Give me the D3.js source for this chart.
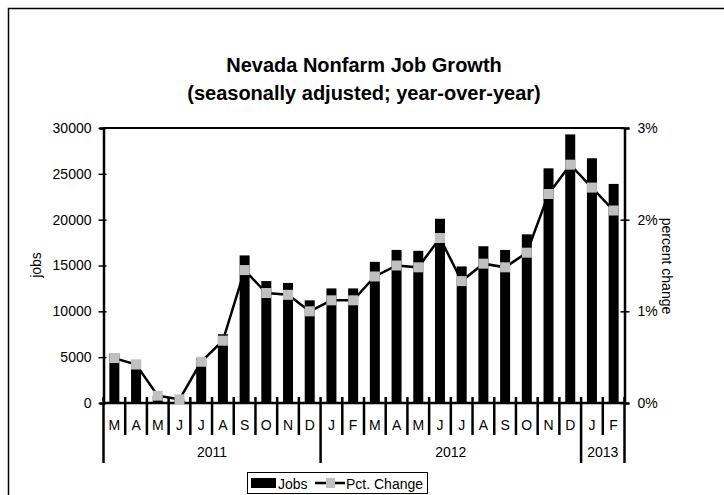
<!DOCTYPE html>
<html>
<head>
<meta charset="utf-8">
<script src="https://cdn.jsdelivr.net/npm/d3@7"></script>
<style>
  body { margin: 0; background: #fff; }
  svg text { font-family: Arial, "Liberation Sans", sans-serif; fill: #000; }
</style>
</head>
<body>
<div id="chart"></div>
<script>
// months from Mar 2011 to Feb 2013
const months = ["M", "A", "M", "J", "J", "A", "S", "O", "N", "D",
  "J", "F", "M", "A", "M", "J", "J", "A", "S", "O", "N", "D",
  "J", "F"];
const years = [
  { label: "2011", start: 0, end: 10 },
  { label: "2012", start: 10, end: 22 },
  { label: "2013", start: 22, end: 24 }
];
const jobs = [5400, 4700, 800, 400, 4900, 7500, 16100, 13300, 13100, 11200,
  12500, 12500, 15400, 16700, 16600, 20100, 14900, 17100, 16700, 18400,
  25600, 29300, 26700, 23900];
const pctChange = [0.49, 0.42, 0.08, 0.04, 0.45, 0.68, 1.45, 1.2, 1.18, 1.0,
  1.12, 1.12, 1.38, 1.5, 1.48, 1.8, 1.33, 1.52, 1.48, 1.64,
  2.28, 2.6, 2.35, 2.1];
const jobTicks = [0, 5000, 10000, 15000, 20000, 25000, 30000];
const pctTicks = [0, 1, 2, 3];

const width = 724, height = 495;
const plotLeft = 103.5, plotRight = 624.5, plotTop = 128, plotBottom = 403;

const svg = d3.select("#chart").append("svg")
  .attr("width", width)
  .attr("height", height);

// outer frame (runs off the right and bottom edges)
svg.append("rect")
  .attr("x", 8.5).attr("y", 8.5)
  .attr("width", 740).attr("height", 520)
  .attr("fill", "none")
  .attr("stroke", "#000")
  .attr("stroke-width", 1.5);

// title
svg.append("text")
  .attr("x", 364).attr("y", 72)
  .attr("text-anchor", "middle")
  .style("font-size", "20px").style("font-weight", "bold")
  .text("Nevada Nonfarm Job Growth");
svg.append("text")
  .attr("x", 364).attr("y", 100)
  .attr("text-anchor", "middle")
  .style("font-size", "20px").style("font-weight", "bold")
  .text("(seasonally adjusted; year-over-year)");

const x = d3.scaleBand()
  .domain(d3.range(months.length))
  .range([plotLeft, plotRight])
  .padding(0);

const y = d3.scaleLinear().domain([0, 30000]).range([plotBottom, plotTop]);
const y2 = d3.scaleLinear().domain([0, 3]).range([plotBottom, plotTop]);

// bars
svg.selectAll(".bar")
  .data(jobs)
  .enter()
  .append("rect")
  .attr("class", "bar")
  .attr("x", (d, i) => x(i) + x.bandwidth() / 2 - 5)
  .attr("y", (d) => y(d))
  .attr("width", 10)
  .attr("height", (d) => plotBottom - y(d))
  .attr("fill", "#000");

// top border of plot
svg.append("line")
  .attr("x1", plotLeft).attr("x2", plotRight)
  .attr("y1", plotTop).attr("y2", plotTop)
  .attr("stroke", "#000").attr("stroke-width", 2);

// left axis
const yAxis = svg.append("g")
  .attr("transform", `translate(${plotLeft},0)`)
  .call(d3.axisLeft(y).tickValues(jobTicks).tickFormat(d3.format("d")).tickSize(4).tickPadding(8));
yAxis.select(".domain").attr("stroke-width", 2.5);
yAxis.selectAll(".tick line").attr("x2", -5).attr("x1", 3).attr("stroke-width", 1.5);
yAxis.selectAll(".tick text")
  .style("font-size", "14px")
  .style("font-family", "Arial, 'Liberation Sans', sans-serif");

// right axis
const y2Axis = svg.append("g")
  .attr("transform", `translate(${plotRight},0)`)
  .call(d3.axisRight(y2).tickValues(pctTicks).tickFormat((d) => d + "%").tickSize(5).tickPadding(8));
y2Axis.select(".domain").attr("stroke-width", 2.5);
y2Axis.selectAll(".tick line").attr("x1", -4).attr("stroke-width", 1.5);
y2Axis.selectAll(".tick text")
  .style("font-size", "14px")
  .style("font-family", "Arial, 'Liberation Sans', sans-serif");

// axis titles
svg.append("text")
  .attr("transform", "translate(36,265) rotate(-90)")
  .attr("text-anchor", "middle")
  .attr("dominant-baseline", "central")
  .style("font-size", "14px")
  .text("jobs");
svg.append("text")
  .attr("transform", "translate(667,266) rotate(90)")
  .attr("text-anchor", "middle")
  .attr("dominant-baseline", "central")
  .style("font-size", "14px")
  .text("percent change");

// bottom baseline
svg.append("line")
  .attr("x1", plotLeft).attr("x2", plotRight)
  .attr("y1", plotBottom).attr("y2", plotBottom)
  .attr("stroke", "#000").attr("stroke-width", 2.5);

// month dividers
const bounds = d3.range(months.length + 1);
const yearBounds = new Set(years.map((d) => d.start).concat([months.length]));
svg.selectAll(".divider")
  .data(bounds)
  .enter()
  .append("line")
  .attr("class", "divider")
  .attr("x1", (d) => plotLeft + d * x.bandwidth())
  .attr("x2", (d) => plotLeft + d * x.bandwidth())
  .attr("y1", 397)
  .attr("y2", (d) => (yearBounds.has(d) ? 463 : 435))
  .attr("stroke", "#000")
  .attr("stroke-width", 2.5);

// month labels
svg.selectAll(".month")
  .data(months)
  .enter()
  .append("text")
  .attr("class", "month")
  .attr("x", (d, i) => x(i) + x.bandwidth() / 2)
  .attr("y", 425)
  .attr("text-anchor", "middle")
  .attr("dominant-baseline", "central")
  .style("font-size", "14px")
  .text((d) => d);

// year labels
svg.selectAll(".year")
  .data(years)
  .enter()
  .append("text")
  .attr("class", "year")
  .attr("x", (d) => plotLeft + ((d.start + d.end) / 2) * x.bandwidth())
  .attr("y", 452)
  .attr("text-anchor", "middle")
  .attr("dominant-baseline", "central")
  .style("font-size", "14px")
  .text((d) => d.label);

// pct change line and markers
const line = d3.line()
  .x((d, i) => x(i) + x.bandwidth() / 2)
  .y((d) => y2(d));
svg.append("path")
  .datum(pctChange)
  .attr("d", line)
  .attr("fill", "none")
  .attr("stroke", "#000")
  .attr("stroke-width", 2.5);
svg.selectAll(".marker")
  .data(pctChange)
  .enter()
  .append("rect")
  .attr("class", "marker")
  .attr("x", (d, i) => x(i) + x.bandwidth() / 2 - 5)
  .attr("y", (d) => y2(d) - 5)
  .attr("width", 10)
  .attr("height", 10)
  .attr("fill", "#c0c0c0");

// legend
const legend = svg.append("g").attr("transform", "translate(247,472)");
legend.append("rect")
  .attr("x", 0.5).attr("y", 0.5)
  .attr("width", 180).attr("height", 21)
  .attr("fill", "#fff")
  .attr("stroke", "#000");
legend.append("rect")
  .attr("x", 4).attr("y", 6)
  .attr("width", 25).attr("height", 10)
  .attr("fill", "#000");
legend.append("text")
  .attr("x", 31).attr("y", 11.5)
  .attr("dominant-baseline", "central")
  .style("font-size", "14px")
  .text("Jobs");
legend.append("line")
  .attr("x1", 68).attr("x2", 98)
  .attr("y1", 11).attr("y2", 11)
  .attr("stroke", "#000").attr("stroke-width", 2.5);
legend.append("rect")
  .attr("x", 79).attr("y", 6)
  .attr("width", 9).attr("height", 10)
  .attr("fill", "#c0c0c0");
legend.append("text")
  .attr("x", 99).attr("y", 11.5)
  .attr("dominant-baseline", "central")
  .style("font-size", "14px")
  .text("Pct. Change");
</script>
</body>
</html>
